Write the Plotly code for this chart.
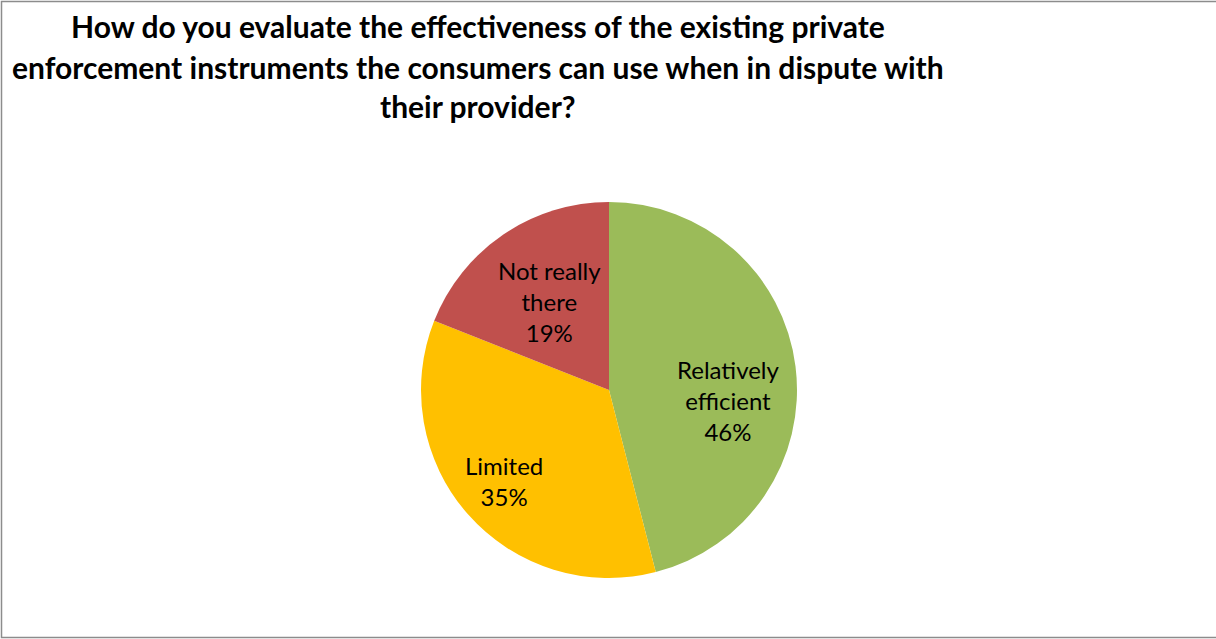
import plotly.graph_objects as go

# Survey answers and their shares (%)
categories = ["Relatively efficient", "Limited", "Not really there"]
shares = [46, 35, 19]
colors = ["#9BBB59", "#FFC000", "#C0504D"]
# Label text broken over lines as shown inside each slice
label_lines = ["Relatively<br>efficient", "Limited", "Not really<br>there"]

title_lines = [
    "How do you evaluate the effectiveness of the existing private",
    "enforcement instruments the consumers can use when in dispute with",
    "their provider?",
]

W, H = 1216, 639
FONT = "Lato, Carlito, Calibri, sans-serif"

fig = go.Figure(
    go.Pie(
        labels=categories,
        values=shares,
        sort=False,
        direction="clockwise",
        rotation=0,
        marker=dict(colors=colors, line=dict(width=0)),
        textinfo="none",
        hoverinfo="label+percent",
        showlegend=False,
        domain=dict(x=[421 / W, 797 / W], y=[1 - 578 / H, 1 - 202 / H]),
    )
)

annotations = []
# Title, one annotation per line
title_y = [26, 67, 106]
for line, yp in zip(title_lines, title_y):
    annotations.append(dict(
        text=f"<b>{line}</b>", x=478 / W, y=1 - yp / H, xref="paper", yref="paper",
        xanchor="center", yanchor="middle", showarrow=False,
        font=dict(family=FONT, size=30, color="#000000"),
    ))

# Data labels placed inside their slices
label_pos = [(728, 400), (504, 481), (549, 302)]
for txt, val, (px, py) in zip(label_lines, shares, label_pos):
    annotations.append(dict(
        text=f"{txt}<br>{val}%", x=px / W, y=1 - py / H, xref="paper", yref="paper",
        xanchor="center", yanchor="middle", showarrow=False, align="center",
        font=dict(family=FONT, size=24, color="#000000"),
    ))

fig.update_layout(
    width=W, height=H,
    margin=dict(l=0, r=0, t=0, b=0),
    paper_bgcolor="#FFFFFF",
    plot_bgcolor="#FFFFFF",
    annotations=annotations,
    shapes=[dict(
        type="rect", xref="paper", yref="paper",
        x0=1.5 / W, x1=1.05, y0=1 - 637.5 / H, y1=1 - 1.5 / H,
        line=dict(color="#8C8C8C", width=1.5), fillcolor="rgba(0,0,0,0)",
    )],
)

fig.write_html("out.html")
